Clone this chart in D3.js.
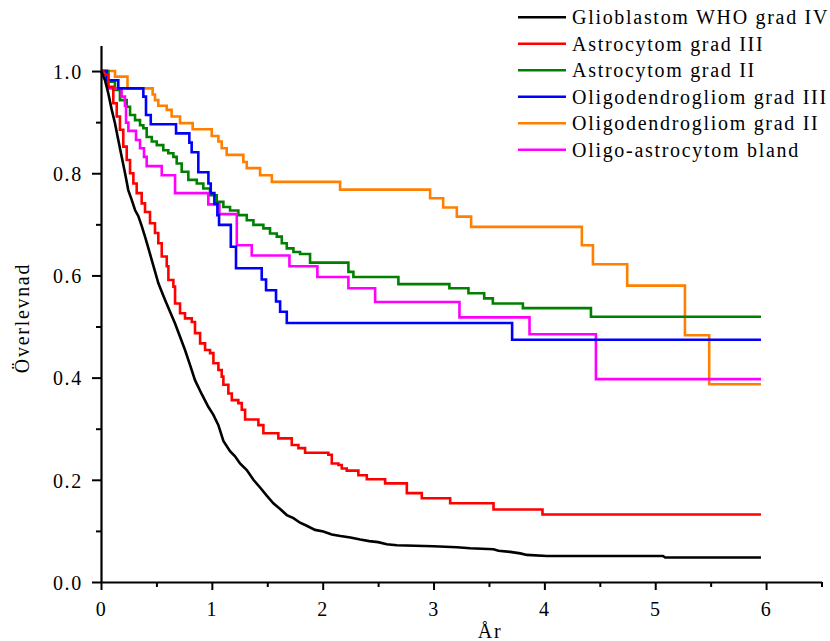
<!DOCTYPE html>
<html>
<head>
<meta charset="utf-8">
<script src="https://cdn.jsdelivr.net/npm/d3@7/dist/d3.min.js"></script>
<style>
  html, body { margin: 0; padding: 0; background: #fff; }
  svg { display: block; }
  text { font-family: "Liberation Serif", "Times New Roman", serif; font-size: 20px; letter-spacing: 1.7px; fill: #000; }
</style>
</head>
<body>
<svg id="chart" width="830" height="641"></svg>
<script>
// Kaplan–Meier survival per tumour type: [år, överlevnad] after each event
const seriesNames = [
  "Glioblastom WHO grad IV",
  "Astrocytom grad III",
  "Astrocytom grad II",
  "Oligodendrogliom grad III",
  "Oligodendrogliom grad II",
  "Oligo-astrocytom bland"
];
const seriesColors = ["#000000", "#ff0000", "#008000", "#0000ff", "#ff8000", "#ff00ff"];

const glioblastom = [
  [0,1],[0.036,0.982],[0.066,0.956],[0.097,0.924],[0.126,0.898],[0.156,0.865],[0.187,0.832],
  [0.217,0.800],[0.246,0.767],[0.277,0.748],[0.307,0.728],[0.337,0.716],[0.367,0.697],
  [0.397,0.676],[0.428,0.653],[0.458,0.630],[0.487,0.608],[0.517,0.585],[0.548,0.568],
  [0.578,0.552],[0.623,0.529],[0.668,0.506],[0.713,0.480],[0.758,0.454],[0.803,0.425],
  [0.848,0.395],[0.908,0.368],[0.968,0.343],[1.014,0.327],[1.059,0.307],[1.104,0.276],
  [1.164,0.256],[1.209,0.246],[1.254,0.232],[1.315,0.219],[1.375,0.200],[1.435,0.185],
  [1.495,0.169],[1.555,0.154],[1.616,0.143],[1.676,0.131],[1.736,0.125],[1.796,0.116],
  [1.856,0.110],[1.931,0.102],[2.006,0.099],[2.082,0.093],[2.160,0.090],[2.250,0.087],
  [2.338,0.083],[2.420,0.080],[2.500,0.078],[2.578,0.074],[2.669,0.072],[2.999,0.070],
  [3.210,0.068],[3.330,0.066],[3.541,0.064],[3.586,0.061],[3.691,0.059],[3.782,0.056],
  [3.842,0.053],[4.023,0.051],[5.070,0.051],[5.090,0.048],[5.954,0.048]
];
const astrocytomIII = [
  [0,1],[0.021,0.993],[0.066,0.969],[0.111,0.937],[0.142,0.911],[0.171,0.885],[0.201,0.852],
  [0.232,0.826],[0.262,0.800],[0.292,0.780],[0.322,0.761],[0.367,0.741],[0.397,0.724],
  [0.442,0.702],[0.487,0.683],[0.517,0.663],[0.548,0.637],[0.593,0.618],[0.608,0.591],
  [0.653,0.578],[0.668,0.545],[0.713,0.526],[0.758,0.516],[0.819,0.509],[0.848,0.487],
  [0.894,0.467],[0.939,0.454],[0.984,0.448],[1.014,0.428],[1.059,0.415],[1.089,0.402],
  [1.104,0.386],[1.149,0.369],[1.180,0.356],[1.239,0.350],[1.270,0.337],[1.300,0.318],
  [1.420,0.307],[1.465,0.291],[1.600,0.281],[1.721,0.268],[1.781,0.262],[1.841,0.253],
  [2.051,0.249],[2.082,0.232],[2.142,0.229],[2.172,0.222],[2.217,0.218],[2.322,0.209],
  [2.398,0.201],[2.563,0.193],[2.759,0.174],[2.894,0.164],[3.150,0.154],[3.541,0.142],
  [3.983,0.132],[5.954,0.132]
];
const astrocytomII = [
  [0,1],[0.066,0.979],[0.126,0.963],[0.171,0.943],[0.232,0.930],[0.262,0.914],[0.307,0.904],
  [0.352,0.894],[0.382,0.888],[0.412,0.871],[0.458,0.862],[0.503,0.855],[0.562,0.845],
  [0.607,0.839],[0.653,0.832],[0.683,0.819],[0.728,0.803],[0.788,0.787],[0.864,0.780],
  [0.923,0.770],[0.984,0.757],[1.044,0.744],[1.104,0.734],[1.164,0.727],[1.239,0.718],
  [1.315,0.708],[1.375,0.699],[1.465,0.692],[1.525,0.682],[1.586,0.676],[1.631,0.663],
  [1.676,0.653],[1.736,0.646],[1.796,0.642],[1.886,0.625],[2.232,0.607],[2.277,0.597],
  [2.683,0.583],[3.143,0.575],[3.315,0.565],[3.457,0.555],[3.535,0.545],[3.806,0.536],
  [4.420,0.519],[5.954,0.519]
];
const oligodendrogliomIII = [
  [0,1],[0.051,0.982],[0.156,0.966],[0.382,0.950],[0.406,0.914],[0.449,0.896],[0.677,0.878],
  [0.797,0.860],[0.818,0.841],[0.878,0.802],[0.969,0.780],[0.990,0.761],[1.023,0.740],
  [1.050,0.718],[1.065,0.699],[1.171,0.656],[1.218,0.614],[1.450,0.592],[1.489,0.571],
  [1.579,0.549],[1.616,0.529],[1.676,0.507],[3.709,0.474],[5.954,0.474]
];
const oligodendrogliomII = [
  [0,1],[0.126,0.989],[0.239,0.966],[0.466,0.954],[0.487,0.943],[0.517,0.932],[0.593,0.924],
  [0.637,0.911],[0.713,0.898],[0.827,0.886],[0.999,0.873],[1.059,0.862],[1.089,0.849],
  [1.134,0.836],[1.284,0.822],[1.315,0.810],[1.435,0.796],[1.541,0.783],[2.157,0.768],
  [2.969,0.751],[3.087,0.733],[3.210,0.715],[3.339,0.695],[4.338,0.659],[4.438,0.622],
  [4.747,0.580],[5.268,0.483],[5.487,0.387],[5.954,0.387]
];
const oligoAstrocytom = [
  [0,1],[0.051,0.982],[0.066,0.966],[0.186,0.950],[0.216,0.932],[0.226,0.899],[0.247,0.883],
  [0.316,0.865],[0.352,0.849],[0.388,0.832],[0.412,0.814],[0.548,0.796],[0.668,0.761],
  [0.968,0.739],[1.068,0.720],[1.225,0.659],[1.360,0.639],[1.700,0.618],[1.952,0.597],
  [2.232,0.575],[2.473,0.548],[3.234,0.518],[3.866,0.485],[4.465,0.397],[5.954,0.397]
];
const seriesData = [glioblastom, astrocytomIII, astrocytomII, oligodendrogliomIII, oligodendrogliomII, oligoAstrocytom];

const xMajorTicks = [0, 1, 2, 3, 4, 5, 6];
const xMinorTicks = [0.5, 1.5, 2.5, 3.5, 4.5, 5.5, 6.5];
const yMajorTicks = [0.0, 0.2, 0.4, 0.6, 0.8, 1.0];
const yMinorTicks = [0.1, 0.3, 0.5, 0.7, 0.9];

const svg = d3.select("#chart");

const x = d3.scaleLinear().domain([0, 6.5]).range([101, 821.5]);
const y = d3.scaleLinear().domain([0, 1.05]).range([582, 45.5]);

// survival curves (glioblastom is densely sampled, so it reads as a smooth line)
const stepLine = d3.line().x(d => x(d[0])).y(d => y(d[1])).curve(d3.curveStepAfter);
const smoothLine = d3.line().x(d => x(d[0])).y(d => y(d[1])).curve(d3.curveLinear);

const drawOrder = [4, 2, 5, 3, 1, 0];
drawOrder.forEach(i => {
  svg.append("path")
    .datum(seriesData[i])
    .attr("fill", "none")
    .attr("stroke", seriesColors[i])
    .attr("stroke-width", 2.6)
    .attr("stroke-linejoin", "miter")
    .attr("d", i === 0 ? smoothLine : stepLine);
});

// axes
function styleAxis(g) {
  g.selectAll(".domain").attr("stroke", "#000").attr("stroke-width", 2.2);
  g.selectAll(".tick line").attr("stroke", "#000").attr("stroke-width", 2);
  g.selectAll("text").attr("font-family", null).attr("font-size", null).attr("fill", "#000");
}

const yAxis = svg.append("g").attr("transform", `translate(${x(0)},0)`)
  .call(d3.axisLeft(y).tickValues(yMajorTicks).tickFormat(d3.format(".1f")).tickSize(9).tickSizeOuter(0).tickPadding(9));
styleAxis(yAxis);
yAxis.selectAll("text").attr("dy", "0.36em");

const yMinor = svg.append("g").attr("transform", `translate(${x(0)},0)`)
  .call(d3.axisLeft(y).tickValues(yMinorTicks).tickFormat("").tickSize(5).tickSizeOuter(0));
styleAxis(yMinor);
yMinor.select(".domain").remove();

const xAxis = svg.append("g").attr("transform", `translate(0,${y(0)})`)
  .call(d3.axisBottom(x).tickValues(xMajorTicks).tickFormat(d3.format("d")).tickSize(8).tickSizeOuter(0).tickPadding(12));
styleAxis(xAxis);
xAxis.selectAll("text").attr("dy", "0.71em");

const xMinor = svg.append("g").attr("transform", `translate(0,${y(0)})`)
  .call(d3.axisBottom(x).tickValues(xMinorTicks).tickFormat("").tickSize(5).tickSizeOuter(0));
styleAxis(xMinor);
xMinor.select(".domain").remove();

// axis titles
svg.append("text")
  .attr("transform", "translate(29,318) rotate(-90)")
  .attr("text-anchor", "middle")
  .text("Överlevnad");

svg.append("text")
  .attr("x", 490).attr("y", 638)
  .attr("text-anchor", "middle")
  .text("År");

// legend
const legend = svg.append("g");
seriesNames.forEach((name, i) => {
  const ly = 17.3 + i * 26.5;
  legend.append("line")
    .attr("x1", 518).attr("x2", 566)
    .attr("y1", ly).attr("y2", ly)
    .attr("stroke", seriesColors[i]).attr("stroke-width", 2.6);
  legend.append("text")
    .attr("x", 572).attr("y", ly + 7)
    .text(name);
});
</script>
</body>
</html>
